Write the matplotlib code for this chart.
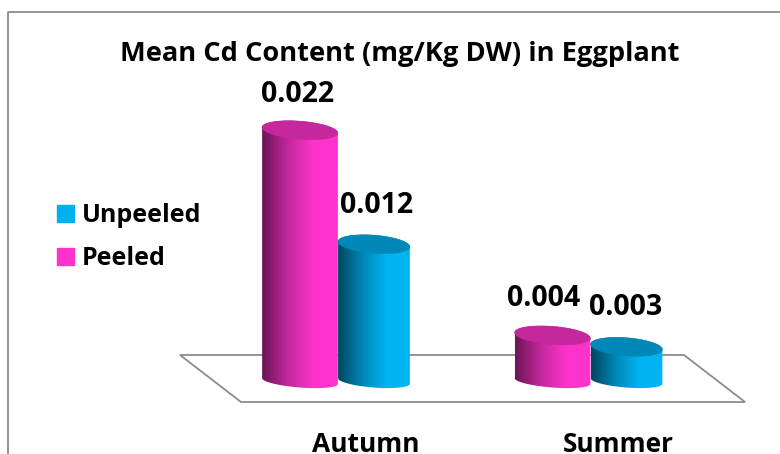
import numpy as np
import matplotlib
matplotlib.use("Agg")
import matplotlib.pyplot as plt
from matplotlib.colors import LinearSegmentedColormap
from matplotlib.patches import Patch, PathPatch, Polygon
from matplotlib.path import Path
from matplotlib.transforms import Affine2D

categories = ["Autumn", "Summer"]
series_names = ["Unpeeled", "Peeled"]
unpeeled = [0.012, 0.003]
peeled = [0.022, 0.004]
title = "Mean Cd Content (mg/Kg DW) in Eggplant"

W, H = 780, 454
X0, X_UNIT = 337, 252.5      # pixel of category 0, pixels per category
Y0, Y_UNIT = 381, 11400      # pixel of value 0, pixels per unit

plt.rcParams["font.family"] = ["Open Sans", "DejaVu Sans"]
plt.rcParams["font.weight"] = "bold"

fig = plt.figure(figsize=(W / 100, H / 100), dpi=100)
ax = fig.add_axes([0, 0, 1, 1])
ax.set_xlim(-X0 / X_UNIT, (W - X0) / X_UNIT)
ax.set_ylim(-(H - Y0) / Y_UNIT, Y0 / Y_UNIT)
ax.axis("off")

# pixel coordinates of the reference, origin top left
px = Affine2D().scale(1 / W, -1 / H).translate(0, 1) + fig.transFigure


def half_ellipse(half_w, semi_b, sign):
    """Half of a tilted ellipse from left to right, in data units; sign=1 lower, -1 upper."""
    tilt = np.radians(4.5)
    t = np.linspace(np.pi, 0, 60)
    ex = -half_w * np.cos(t) * np.cos(tilt) + sign * semi_b * np.sin(t) * np.sin(tilt) * -1
    ey = -half_w * np.cos(t) * np.sin(tilt) + sign * semi_b * np.sin(t) * np.cos(tilt)
    return ex / X_UNIT, -ey / Y_UNIT


def cylinder(xc, value, half_w, dark, light, cap):
    lo_x, lo_y = half_ellipse(half_w, 6.5, 1)
    up_x, up_y = half_ellipse(half_w, 9.0, -1)
    body = np.vstack([
        np.column_stack([xc + lo_x, lo_y]),
        np.column_stack([xc + up_x[::-1], value + up_y[::-1]]),
    ])
    body_patch = Polygon(body, closed=True, transform=ax.transData, fc="none", ec="none")
    ax.add_patch(body_patch)

    cmap = LinearSegmentedColormap.from_list(
        "c", [(0, dark), (0.35, cap), (0.68, light), (1, light)])
    w = half_w / X_UNIT
    img = ax.imshow(np.linspace(0, 1, 256)[None, :], cmap=cmap, aspect="auto",
                    extent=[xc - w, xc + w, -0.002, value + 0.002], zorder=3)
    img.set_clip_path(body_patch)

    top = np.vstack([
        np.column_stack([xc + up_x, value + up_y]),
        np.column_stack([xc + half_ellipse(half_w, 9.0, 1)[0][::-1],
                         value + half_ellipse(half_w, 9.0, 1)[1][::-1]]),
    ])
    ax.add_patch(PathPatch(Path(np.vstack([top, top[0]])), fc=cap, ec=cap, lw=0.4, zorder=4))


# frame and floor (no right side on the frame)
ax.plot([8, 8, W], [H, 12, 12], color="#8c8c8c", lw=1.3, transform=px, clip_on=False)
floor = [(180, 355), (684, 355), (745, 402), (241, 402)]
ax.add_patch(Polygon(floor, closed=True, fc="white", ec="#8c8c8c", lw=1.3, transform=px, zorder=1))

PEELED_C = ("#6b1457", "#ff33cc", "#c4289c")
UNPEELED_C = ("#00465f", "#00b4f4", "#0088b8")

for i in range(len(categories)):
    cylinder(i - 37 / X_UNIT, peeled[i], 38, *PEELED_C)
    cylinder(i + 37 / X_UNIT, unpeeled[i], 36, *UNPEELED_C)

# value labels
label_shift = {(0, 0): (-2, 36), (0, 1): (3, 39), (1, 0): (-9, 37), (1, 1): (-1, 39)}
for i in range(len(categories)):
    for j, (vals, dx) in enumerate([(peeled, -37), (unpeeled, 37)]):
        sx, sy = label_shift[(i, j)]
        ax.annotate(f"{vals[i]:.3f}", (i + dx / X_UNIT, vals[i]),
                    xytext=(sx * 0.72, sy * 0.72), textcoords="offset points",
                    ha="center", va="center", fontsize=20.5, color="black", zorder=5)

for i, cat in enumerate(categories):
    ax.text(366 + i * X_UNIT, 452, cat, transform=px, ha="center", va="baseline",
            fontsize=19, color="black")

ax.text(400, 54, title, transform=px, ha="center", va="center", fontsize=19.6, color="black")

handles = [Patch(color="#00b0f0", label=series_names[0]), Patch(color="#ff33cc", label=series_names[1])]
ax.legend(handles=handles, loc="center left", bbox_to_anchor=(52 / W, 1 - 237 / H),
          frameon=False, fontsize=18, handlelength=0.68, handleheight=0.68,
          handletextpad=0.3, labelspacing=0.72, borderpad=0.2, borderaxespad=0)

fig.savefig("out.png", dpi=100)
